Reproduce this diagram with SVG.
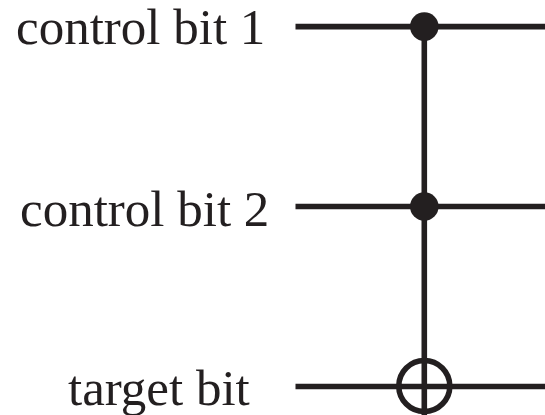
<svg xmlns="http://www.w3.org/2000/svg" width="545" height="415" viewBox="0 0 545 415">
<style>
text{font-family:"Liberation Serif","Times New Roman",serif;font-size:51px;fill:#231f20}
.w{stroke:#231f20;stroke-width:5.6;fill:none}
.d{fill:#231f20}
</style>
<rect width="545" height="415" fill="#fff"/>
<g id="connectors">
<line class="w" x1="295.5" y1="26.6" x2="545" y2="26.6"/>
<line class="w" x1="295.5" y1="206.5" x2="545" y2="206.5"/>
<line class="w" x1="295.5" y1="386.5" x2="545" y2="386.5"/>
<line class="w" x1="424.3" y1="27" x2="424.3" y2="415"/>
</g>
<g id="label1"><text x="16" y="44">control bit 1</text></g>
<g id="label2"><text x="20" y="226">control bit 2</text></g>
<g id="label3"><text x="68" y="405">target bit</text></g>
<g id="control1"><circle class="d" cx="424.3" cy="26.6" r="14.3"/></g>
<g id="control2"><circle class="d" cx="424.3" cy="206.5" r="14.3"/></g>
<g id="target"><circle class="w" cx="424.3" cy="386" r="25.5"/></g>
</svg>
